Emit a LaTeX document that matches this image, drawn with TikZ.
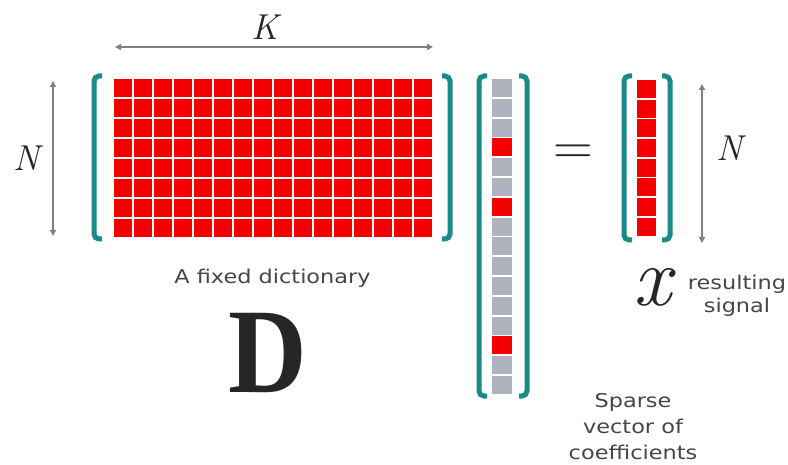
\documentclass[tikz,border=0pt]{standalone}
\usepackage{fontspec}
\usepackage{graphicx}
\usetikzlibrary{arrows.meta}
\newfontfamily\labelfont{DejaVu Sans}
\newfontfamily\dfont{Liberation Serif}
\definecolor{brk}{RGB}{26,138,134}
\definecolor{cellred}{RGB}{245,0,0}
\definecolor{cellgray}{RGB}{176,178,190}
\definecolor{dimgray}{RGB}{128,128,128}
\definecolor{txt}{RGB}{70,70,70}
% horizontally widened label lines
\newcommand\lbl[1]{\scalebox{1.18}[1]{\begin{tabular}{@{}c@{}}#1\end{tabular}}}

\begin{document}
\begin{tikzpicture}[x=1pt,y=-1pt,
  dcell/.style={fill=cellred, minimum size=18pt, inner sep=0pt, outer sep=0pt, anchor=north west},
  vcell/.style={minimum width=19.5pt, minimum height=18pt, inner sep=0pt, outer sep=0pt, anchor=north west},
  xcell/.style={fill=cellred, minimum width=19pt, minimum height=18pt, inner sep=0pt, outer sep=0pt, anchor=north west},
  bracket/.style={draw=brk, line width=5pt, rounded corners=5pt},
  dimline/.style={draw=dimgray, line width=1.8pt,
    {Triangle[length=6pt,width=6pt]}-{Triangle[length=6pt,width=6pt]}},
  mathsym/.style={inner sep=0pt, text=black!85},
  labeltext/.style={inner sep=0pt, text=txt, font=\labelfont\fontsize{19}{26}\selectfont}
]
\useasboundingbox (0,0) rectangle (788,465);
\fill[white] (0,0) rectangle (788,465);

% dictionary D: 8 x 16 grid of atoms
\foreach \r in {0,...,7}
  \foreach \c in {0,...,15}
    \node[dcell] (d-\r-\c) at ({114+20*\c},{79+20*\r}) {};

% sparse coefficient vector (16 entries, three non-zero)
\foreach \i in {0,...,15}{
  \ifnum\i=3 \def\col{cellred}\else\ifnum\i=6 \def\col{cellred}\else\ifnum\i=13 \def\col{cellred}\else\def\col{cellgray}\fi\fi\fi
  \node[vcell, fill=\col] (s-\i) at (492,{79+19.8*\i}) {};
}

% resulting signal x (8 entries)
\foreach \i in {0,...,7}
  \node[xcell] (x-\i) at (637,{80+19.7*\i}) {};

% brackets
\draw[bracket] (102,76) -- (94,76) -- (94,239) -- (102,239);
\draw[bracket] (442,76) -- (450,76) -- (450,239) -- (442,239);
\draw[bracket] (487,76) -- (479,76) -- (479,396) -- (487,396);
\draw[bracket] (519,76) -- (527,76) -- (527,396) -- (519,396);
\draw[bracket] (632,76) -- (624,76) -- (624,240) -- (632,240);
\draw[bracket] (662,76) -- (670,76) -- (670,240) -- (662,240);

% dimension arrows
\coordinate (kL) at (115,47);
\coordinate (kR) at (433,47);
\coordinate (nT) at (53,81);
\coordinate (nB) at (53,236);
\coordinate (mT) at (702,84);
\coordinate (mB) at (702,243);
\draw[dimline] (kL) -- (kR);
\draw[dimline] (nT) -- (nB);
\draw[dimline] (mT) -- (mB);

% symbols
\node[mathsym] (K) at (265,27) {\fontsize{36}{40}\selectfont\itshape K};
\node[mathsym] (N1) at (27,158) {\fontsize{36}{40}\selectfont\itshape N};
\node[mathsym] (N2) at (730,148) {\fontsize{36}{40}\selectfont\itshape N};
\node[mathsym, anchor=base] (eq) at (573.5,165) {\fontsize{55}{60}\selectfont =};
\node[mathsym] (Dsym) at (267.5,353) {\scalebox{0.9}[1]{\dfont\bfseries\fontsize{121}{125}\selectfont D}};
\node[mathsym] (xsym) at (652,287) {\fontsize{84}{90}\selectfont\itshape x};

% labels
\node[labeltext, anchor=base] (dict) at (272.5,283) {\lbl{A fixed dictionary}};
\node[labeltext, anchor=north, font=\labelfont\fontsize{19}{23}\selectfont] (sig) at (737,272.9) {\lbl{resulting\\signal}};
\node[labeltext, anchor=north] (sparse) at (633,388.8) {\lbl{Sparse\\vector of\\coefficients}};
\end{tikzpicture}
\end{document}
